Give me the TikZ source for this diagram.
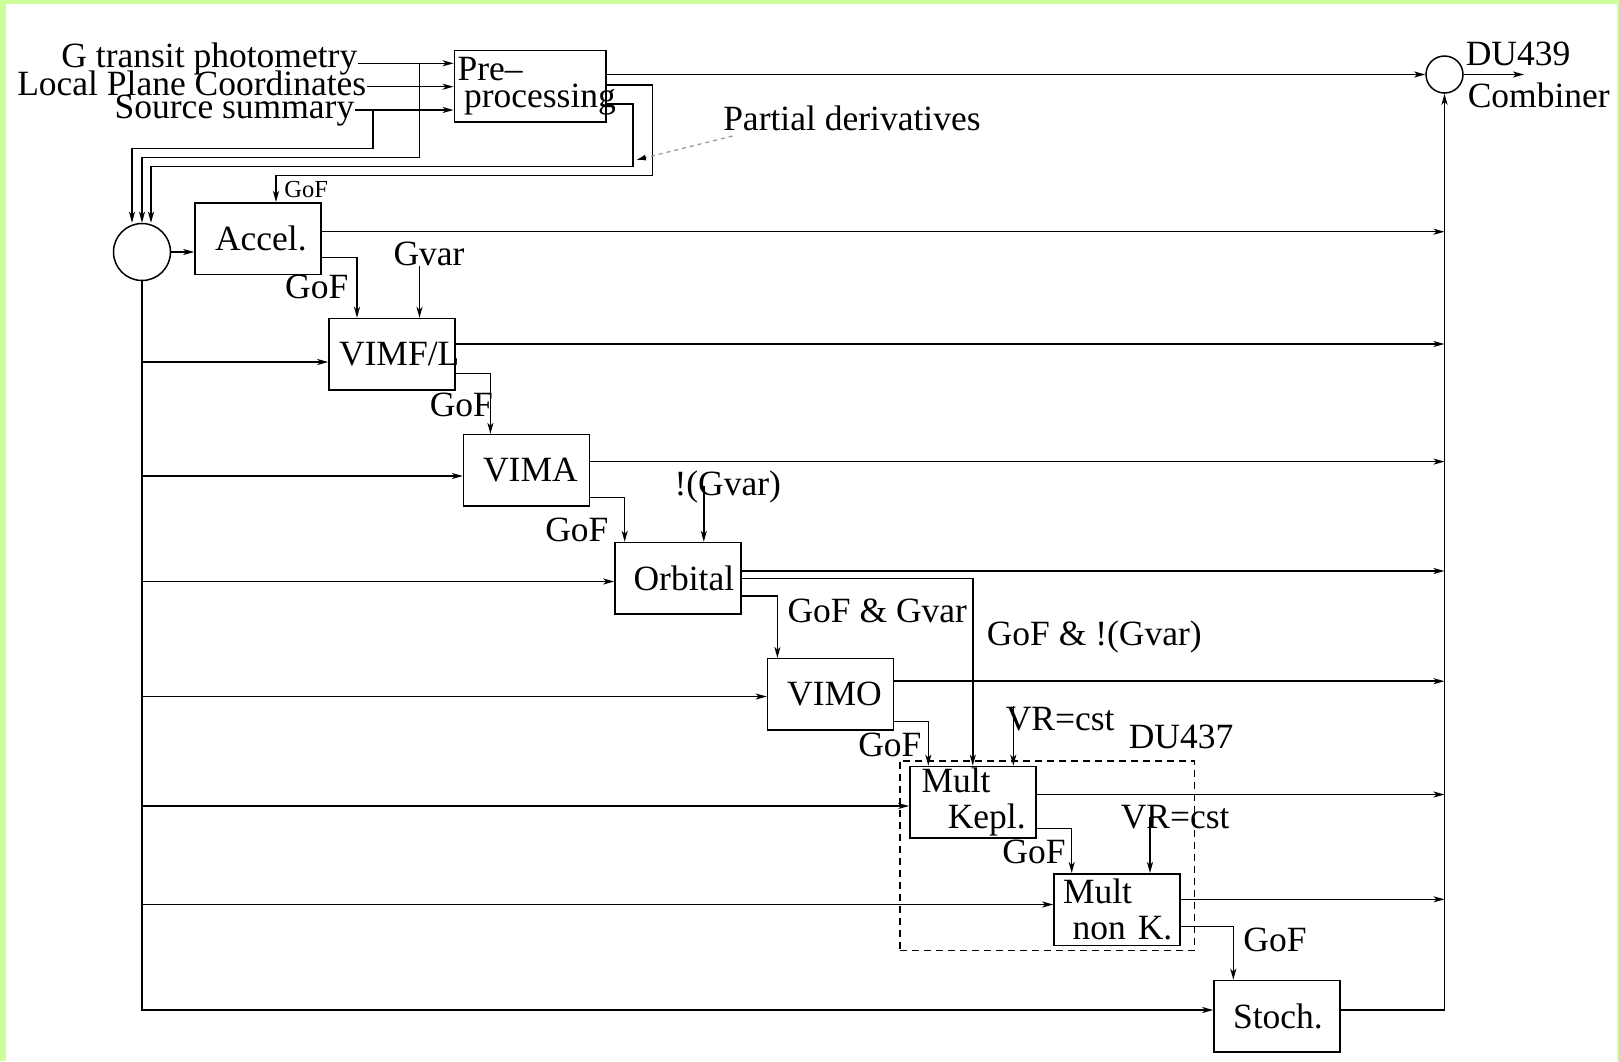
\documentclass[tikz,border=0pt]{standalone}
\usepackage{fontspec}
\setmainfont{Liberation Serif}
\usepackage{tikz}
\usetikzlibrary{arrows.meta,calc}
\definecolor{framegreen}{RGB}{204,255,153}
\definecolor{hintgray}{RGB}{150,150,150}
\newcommand{\lblfont}{\fontsize{35.5pt}{36pt}\selectfont}
\newcommand{\gofsmall}{\fontsize{24.5pt}{25pt}\selectfont}
\setlength{\parindent}{0pt}

\begin{document}
\begin{tikzpicture}[
  x=1pt,y=-1pt,
  line width=1.5pt,
  every node/.style={font=\lblfont},
  blk/.style={draw,line width=1.5pt,minimum width=126pt,minimum height=71.5pt,
              text width=126pt,inner sep=0pt,align=left},
  lbl/.style={inner sep=0pt},
  merge/.style={draw,circle,inner sep=0pt,line width=1.5pt},
  grp/.style={draw,dash pattern=on 7pt off 5pt,line width=1.5pt,
              minimum width=294.5pt,minimum height=189.5pt,inner sep=0pt},
  arr/.style={-{Stealth[length=11pt,width=6pt,inset=3pt]}},
  hint/.style={draw=hintgray,dash pattern=on 4pt off 4pt,line width=1.2pt,
               -{Latex[length=10pt,width=6pt,fill=black,color=black]}}
]
\fill[framegreen] (0,0) rectangle (1619,1061);
\fill[white] (6,4) rectangle (1617,1061);
\useasboundingbox (0,0) rectangle (1619,1061);

% processing blocks
\node[blk,minimum width=151.7pt,text width=151.7pt] (pre) at (530.2,86.2)
  {\hspace*{3.3pt}Pre--\\[-9pt]\hspace*{9.7pt}\mbox{processing}};
\node[merge,minimum size=57pt] (mrg) at (142,252) {};
\node[merge,minimum size=37pt] (cmb) at (1444.5,74.5) {};
\node[blk] (acc) at (258,238.5) {\hspace*{20pt}Accel.};
\node[blk] (vimf) at (392,354.3) {\hspace*{10pt}VIMF/L};
\node[blk] (vima) at (526.6,470.3) {\hspace*{19.5pt}VIMA};
\node[blk] (orb) at (677.9,578.3) {\hspace*{18.7pt}Orbital};
\node[blk] (vimo) at (830.5,694.4) {\hspace*{19.7pt}VIMO};
\node[grp] (du) at (1047.2,855.7) {};
\node[blk] (mk) at (972.8,802.2) {\hspace*{11.7pt}Mult\\\hspace*{38pt}Kepl.};
\node[blk] (mnk) at (1117,909.5) {\hspace*{9pt}Mult\\\hspace*{18.7pt}non K.};
\node[blk] (sto) at (1277,1016.2) {\hspace*{19pt}Stoch.};

% texts
\node[lbl,anchor=base east] (gtp) at (358,67.3) {G transit photometry};
\node[lbl,anchor=base east] (lpc) at (367,95.7) {Local Plane Coordinates};
\node[lbl,anchor=base east] (ssum) at (355,118) {Source summary};
\node[lbl,anchor=base west] (pd) at (722.5,130) {Partial derivatives};
\node[lbl,anchor=base west] (du439) at (1465,65) {DU439};
\node[lbl,anchor=base west] (comb) at (1467,107) {Combiner};
\node[lbl,anchor=base west,font=\gofsmall] (gof0) at (283.7,197.7) {GoF};
\node[lbl,anchor=base east] (gof1) at (349,298.3) {GoF};
\node[lbl,anchor=base west] (gvar) at (392.8,265) {Gvar};
\node[lbl,anchor=base west] (gof2) at (429,416.7) {GoF};
\node[lbl,anchor=base west] (gof3) at (544.5,541) {GoF};
\node[lbl,anchor=base west] (ngvar) at (673.8,495) {!(Gvar)};
\node[lbl,anchor=base west] (gofgv) at (786.8,622) {GoF \& Gvar};
\node[lbl,anchor=base west] (gofngv) at (986,645) {GoF \& !(Gvar)};
\node[lbl,anchor=base west] (gof4) at (857.5,756.7) {GoF};
\node[lbl,anchor=base west] (vr1) at (1005,730) {VR=cst};
\node[lbl,anchor=base west] (du437) at (1128,748) {DU437};
\node[lbl,anchor=base west] (gof5) at (1001.7,863.3) {GoF};
\node[lbl,anchor=base west] (vr2) at (1120,828.3) {VR=cst};
\node[lbl,anchor=base west] (gof6) at (1242.7,951.7) {GoF};

% inputs and pre-processing loops
\coordinate (gin) at ([yshift=4pt]gtp.base east);
\coordinate (lin) at ([yshift=9pt]lpc.base east);
\coordinate (sin) at ([yshift=8pt]ssum.base east);
\draw[arr] (gin) -- (gin -| pre.west);
\draw[arr] (lin) -- (lin -| pre.west);
\draw[arr] (sin) -- (sin -| pre.west);
\coordinate (gbr) at (419.6,63.3);
\coordinate (sbr) at (372.8,110);
\draw[arr] (sbr) -- (372.8,148.3) -| ([xshift=-10pt]mrg.north);
\draw[arr] (gbr) -- (419.6,157.7) -| (mrg.north);
\draw[arr] ([yshift=-17.8pt]pre.east) -| (633,166.7) -| ([xshift=9pt]mrg.north);
\draw[arr] ([yshift=1.2pt]pre.east) -| (652.7,175.7) -| ([xshift=18pt]acc.north);
\draw[arr] (pre.east |- cmb.west) -- (cmb.west);
\coordinate (cout) at (1524,74.5);
\draw[arr] (cmb.east) -- (cout);
\coordinate (pdtip) at (636,160);
\draw[hint] ([xshift=10pt,yshift=-6pt]pd.base west) -- (pdtip);

% trunk from the merge circle
\draw[arr] (mrg.east) -- (mrg.east -| acc.west);
\draw[arr] (mrg.south) |- ([yshift=6.2pt]sto.west);
\draw[arr] ([yshift=-7.7pt]vimf.west -| mrg.south) -- ([yshift=-7.7pt]vimf.west);
\draw[arr] ([yshift=-5.7pt]vima.west -| mrg.south) -- ([yshift=-5.7pt]vima.west);
\draw[arr] ([yshift=-3.2pt]orb.west -| mrg.south) -- ([yshift=-3.2pt]orb.west);
\draw[arr] ([yshift=-2.1pt]vimo.west -| mrg.south) -- ([yshift=-2.1pt]vimo.west);
\draw[arr] ([yshift=-3.8pt]mk.west -| mrg.south) -- ([yshift=-3.8pt]mk.west);
\draw[arr] ([yshift=5pt]mnk.west -| mrg.south) -- ([yshift=5pt]mnk.west);

% outputs to the combiner
\draw[arr] ([yshift=6.8pt]acc.east) -- ([yshift=6.8pt]acc.east -| cmb.south);
\draw[arr] ([yshift=10.3pt]vimf.east) -- ([yshift=10.3pt]vimf.east -| cmb.south);
\draw[arr] ([yshift=8.7pt]vima.east) -- ([yshift=8.7pt]vima.east -| cmb.south);
\draw[arr] ([yshift=7.3pt]orb.east) -- ([yshift=7.3pt]orb.east -| cmb.south);
\draw[arr] ([yshift=13.2pt]vimo.east) -- ([yshift=13.2pt]vimo.east -| cmb.south);
\draw[arr] ([yshift=7.7pt]mk.east) -- ([yshift=7.7pt]mk.east -| cmb.south);
\draw[arr] ([yshift=10.2pt]mnk.east) -- ([yshift=10.2pt]mnk.east -| cmb.south);
\draw[arr] ([yshift=6.2pt]sto.east) -| (cmb.south);

% GoF cascade
\draw[arr] ([yshift=-18.8pt]acc.east) -| ([xshift=-35pt]vimf.north);
\draw[arr] ([xshift=27.5pt]vimf.north |- gvar.south) -- ([xshift=27.5pt]vimf.north);
\draw[arr] ([yshift=-19pt]vimf.east) -| ([xshift=-36.2pt]vima.north);
\draw[arr] ([yshift=-27pt]vima.east) -| ([xshift=-53.2pt]orb.north);
\draw[arr] ([xshift=25.9pt]orb.north |- ngvar.center) -- ([xshift=25.9pt]orb.north);
\draw[arr] ([yshift=-17.7pt]orb.east) -| ([xshift=-53.1pt]vimo.north);
\draw[arr] (orb.east) -| (mk.north);
\draw[arr] ([yshift=-27.3pt]vimo.east) -| ([xshift=-44.5pt]mk.north);
\draw[arr] ([xshift=40.5pt]mk.north |- vr1.north) -- ([xshift=40.5pt]mk.north);
\draw[arr] ([yshift=-26.1pt]mk.east) -| ([xshift=-45.3pt]mnk.north);
\draw[arr] ([xshift=33pt]mnk.north |- vr2.center) -- ([xshift=33pt]mnk.north);
\draw[arr] ([yshift=-17.2pt]mnk.east) -| ([xshift=-43.7pt]sto.north);
\end{tikzpicture}
\end{document}
